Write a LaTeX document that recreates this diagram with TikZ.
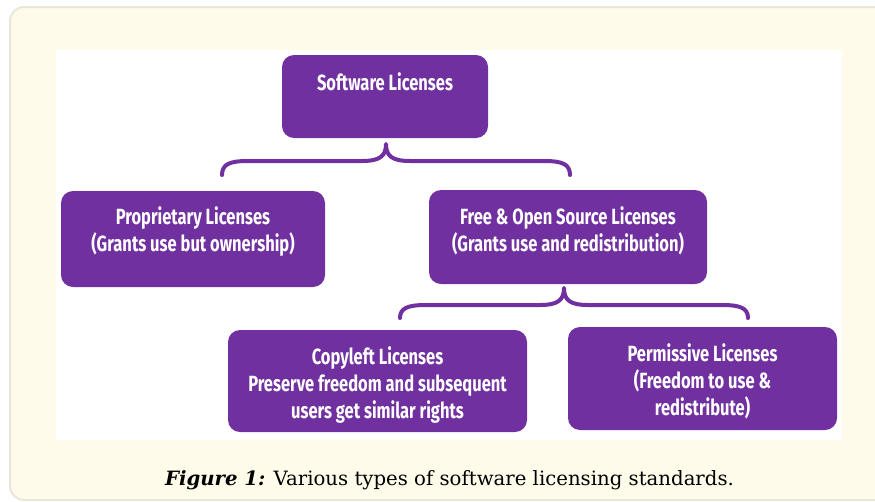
\documentclass[tikz,border=0pt]{standalone}
\usepackage{fontspec}
\newfontfamily\boxfont[FakeStretch=0.75]{Fira Sans}
\newfontfamily\capfont{DejaVu Serif}
\definecolor{lic}{HTML}{7030A0}
\definecolor{paper}{HTML}{FEFBEA}
\definecolor{rim}{HTML}{E9E7DC}
\begin{document}
\begin{tikzpicture}[x=1pt,y=-1pt,
  licbox/.style={draw=none,fill=lic,rounded corners=12pt},
  lictext/.style={text=white,font=\boxfont\bfseries\fontsize{22}{27}\selectfont,align=center,inner sep=0pt},
  brace/.style={draw=lic,line width=4pt,line cap=round,line join=round}]
\useasboundingbox (0,0) rectangle (875,501);
% cream page and white panel
\path[fill=paper,draw=rim,line width=2pt,rounded corners=14pt] (10,7) rectangle (900,500);
\path[fill=white] (56,50) rectangle (842,440);
% boxes
\path[licbox] (282,55) rectangle (488,138);
\node[lictext] (soft) at (385,82) {Software Licenses};
\coordinate (softbot) at (386,144);
\path[licbox] (61,191) rectangle (325,287);
\node[lictext] (prop) at (193,231.5) {Proprietary Licenses\\(Grants use but ownership)};
\path[licbox] (429,190) rectangle (707,284);
\node[lictext] (foss) at (568,231) {Free \& Open Source Licenses\\(Grants use and redistribution)};
\coordinate (fossbot) at (564,288);
\path[licbox] (228,330) rectangle (527,432);
\node[lictext] (copy) at (377.5,385) {Copyleft Licenses\\Preserve freedom and subsequent\\users get similar rights};
\path[licbox] (568,327) rectangle (837,430);
\node[lictext] (perm) at (702.5,381) {Permissive Licenses\\(Freedom to use \&\\redistribute)};
% braces
\coordinate (b1l) at (222,175);
\coordinate (b1r) at (570,175);
\draw[brace] (b1l) .. controls (222,164) and (230,161) .. (248,161)
  -- (362,161) .. controls (380,161) and (386,156) .. (softbot)
  .. controls (386,156) and (392,161) .. (410,161)
  -- (544,161) .. controls (562,161) and (570,164) .. (b1r);
\coordinate (b2l) at (400,318);
\coordinate (b2r) at (748,318);
\draw[brace] (b2l) .. controls (400,308) and (408,305) .. (426,305)
  -- (540,305) .. controls (558,305) and (564,300) .. (fossbot)
  .. controls (564,300) and (570,305) .. (588,305)
  -- (722,305) .. controls (740,305) and (748,308) .. (b2r);
% caption
\node[font=\capfont\fontsize{19.7}{24}\selectfont,anchor=base,inner sep=0pt] (cap) at (449.5,485)
  {\textbf{\textit{Figure 1:}} Various types of software licensing standards.};
\end{tikzpicture}
\end{document}
